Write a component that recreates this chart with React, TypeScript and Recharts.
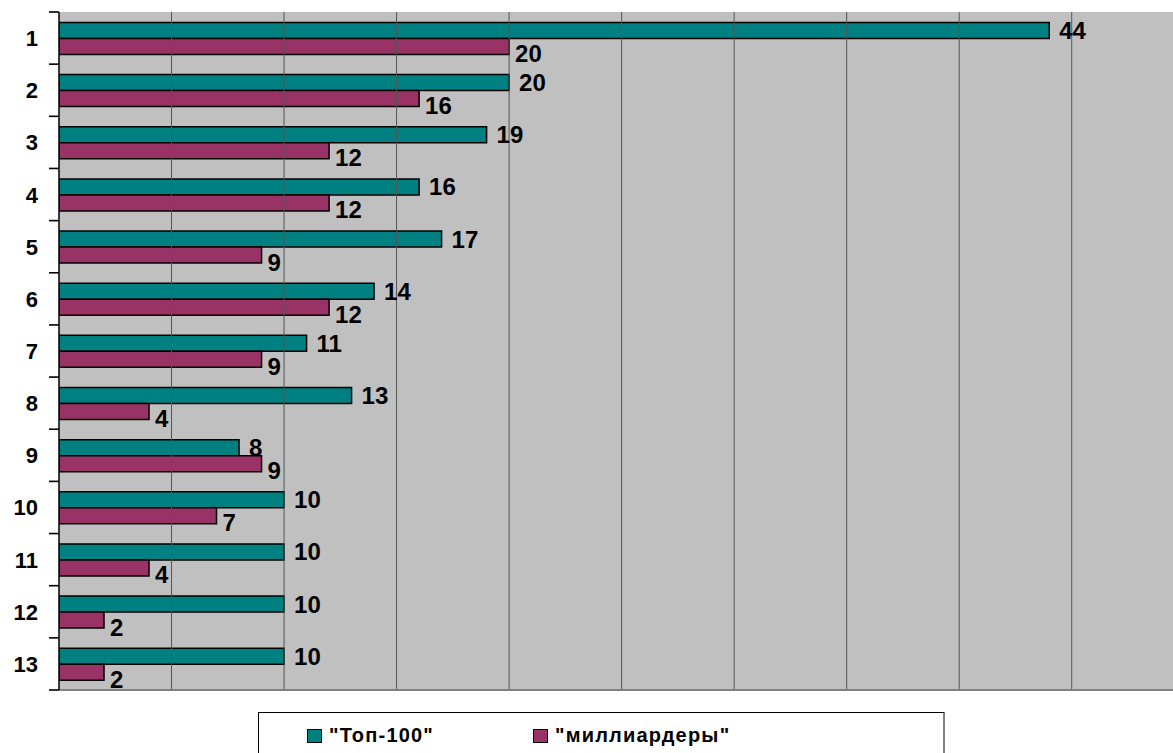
import React from 'react';
import {
  BarChart,
  Bar,
  XAxis,
  YAxis,
  CartesianGrid,
  ReferenceLine,
  LabelList
} from 'recharts';

const categories = ['1', '2', '3', '4', '5', '6', '7', '8', '9', '10', '11', '12', '13'];
const top100 = [44, 20, 19, 16, 17, 14, 11, 13, 8, 10, 10, 10, 10];
const billionaires = [20, 16, 12, 12, 9, 12, 9, 4, 9, 7, 4, 2, 2];
const gridTicks = [5, 10, 15, 20, 25, 30, 35, 40, 45];

const data = categories.map((name, i) => ({
  name,
  top: top100[i],
  bill: billionaires[i]
}));

const FONT = '"Liberation Sans", Arial, sans-serif';
const CHART_W = 1182;
const CHART_H = 700;
const MARGIN = { top: 12, right: 0, bottom: 9, left: 0 };
const PLOT_H = CHART_H - MARGIN.top - MARGIN.bottom - 1;
const HALF_BAND = PLOT_H / categories.length / 2;
const X_MAX = 49.9;

const renderCategoryTick = (props: any) => {
  const x = Number(props.x);
  const y = Number(props.y);
  const half = HALF_BAND;
  const last = props.index === categories.length - 1;
  return (
    <g key={`tick-${props.index}`}>
      <text
        x={x}
        y={y}
        dy={8}
        textAnchor="end"
        fontFamily={FONT}
        fontWeight="bold"
        fontSize={22}
        fill="#000"
      >
        {props.payload.value}
      </text>
      <path d={`M${x + 11},${y - half}H${x + 21}`} stroke="#000" strokeWidth={1.6} />
      {last && <path d={`M${x + 11},${y + half}H${x + 21}`} stroke="#000" strokeWidth={1.6} />}
    </g>
  );
};

const valueLabel = (dx: number, dy: number) => (props: any) => {
  const x = Number(props.x);
  const y = Number(props.y);
  const width = Number(props.width);
  const height = Number(props.height);
  return (
    <text
      x={x + width + dx}
      y={y + height / 2 + dy}
      dy={8.5}
      fontFamily={FONT}
      fontWeight="bold"
      fontSize={24}
      fill="#000"
    >
      {props.value}
    </text>
  );
};

const Swatch = ({ color }: { color: string }) => (
  <span
    style={{
      display: 'inline-block',
      width: 13,
      height: 12,
      background: color,
      border: '1px solid #000',
      marginRight: 7,
      verticalAlign: 'middle',
      position: 'relative',
      top: -1
    }}
  />
);

export default function App() {
  return (
    <div
      style={{
        position: 'fixed',
        top: 0,
        left: 0,
        width: 1173,
        height: 753,
        background: '#fff',
        overflow: 'hidden'
      }}
    >
      <BarChart
        width={CHART_W}
        height={CHART_H}
        data={data}
        layout="vertical"
        margin={MARGIN}
        barCategoryGap="20%"
        barGap={0}
      >
        <CartesianGrid fill="#c0c0c0" fillOpacity={1} horizontal={false} vertical={false} />
        {gridTicks.map((t) => (
          <ReferenceLine key={t} x={t} stroke="#555" strokeWidth={1} />
        ))}
        <XAxis
          type="number"
          domain={[0, X_MAX]}
          allowDataOverflow
          tick={false}
          tickLine={false}
          axisLine={{ stroke: '#808080', strokeWidth: 2 }}
          height={1}
        />
        <XAxis
          xAxisId="top"
          orientation="top"
          type="number"
          domain={[0, X_MAX]}
          tick={false}
          tickLine={false}
          axisLine={{ stroke: '#808080', strokeWidth: 1.5 }}
          height={0}
        />
        <YAxis
          type="category"
          dataKey="name"
          width={59}
          tickSize={0}
          tickLine={false}
          tickMargin={21}
          axisLine={{ stroke: '#000', strokeWidth: 1.5 }}
          tick={renderCategoryTick}
          interval={0}
        />
        <Bar dataKey="top" fill="#008080" stroke="#000" strokeWidth={1.5} isAnimationActive={false}>
          <LabelList dataKey="top" content={valueLabel(10, 0)} />
        </Bar>
        <Bar dataKey="bill" fill="#993366" stroke="#000" strokeWidth={1.5} isAnimationActive={false}>
          <LabelList dataKey="bill" content={valueLabel(6, 7)} />
        </Bar>
      </BarChart>
      <div
        style={{
          position: 'absolute',
          left: 258,
          top: 712,
          width: 687,
          height: 60,
          borderTop: '1px solid #000',
          borderLeft: '1px solid #000',
          borderRight: '2px solid #808080',
          fontFamily: FONT,
          fontWeight: 'bold',
          fontSize: 20,
          letterSpacing: 1.2,
          boxSizing: 'border-box'
        }}
      >
        <div style={{ position: 'absolute', left: 48, top: 11, whiteSpace: 'nowrap' }}>
          <Swatch color="#008080" />
          "Топ-100"
        </div>
        <div style={{ position: 'absolute', left: 274, top: 11, whiteSpace: 'nowrap' }}>
          <Swatch color="#993366" />
          "миллиардеры"
        </div>
      </div>
    </div>
  );
}
